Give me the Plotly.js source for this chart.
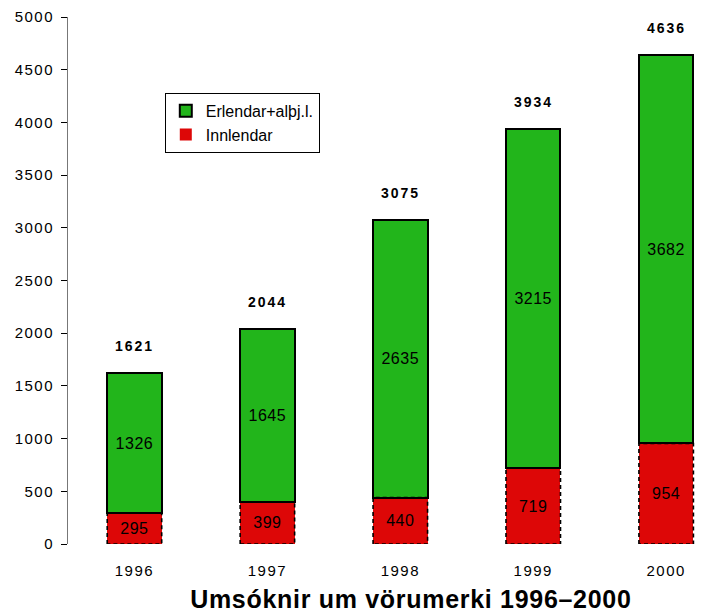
<!DOCTYPE html>
<html>
<head>
<meta charset="utf-8">
<script src="https://cdn.plot.ly/plotly-3.0.1.min.js"></script>
<style>
html,body{margin:0;padding:0;background:#fff;}
#chart{width:722px;height:614px;}
#chart g.xtick text, #chart g.ytick text { letter-spacing: 1.5px; }
#chart text.bartext { letter-spacing: 0.5px; }
#chart g.annotation text { letter-spacing: 2px; }
#chart g.annotation[data-index="5"] text { letter-spacing: 0.7px; }
</style>
</head>
<body>
<div id="chart"></div>
<script>
const years = ["1996", "1997", "1998", "1999", "2000"];
const innlendar = [295, 399, 440, 719, 954];
const erlendar = [1326, 1645, 2635, 3215, 3682];
const totals = [1621, 2044, 3075, 3934, 4636];
const yTicks = [0, 500, 1000, 1500, 2000, 2500, 3000, 3500, 4000, 4500, 5000];

const barWidth = 0.41;
const xpos = years.map((_, i) => i);
const font = "Liberation Sans, Arial, Helvetica, sans-serif";

// dashed outline of red bars, derived from data
const ox = [], oy = [];
innlendar.forEach((v, i) => {
  const a = i - barWidth / 2, b = i + barWidth / 2;
  ox.push(a, a, b, b, a, null);
  oy.push(0, v, v, 0, 0, null);
});

const traces = [
  {
    type: "bar", x: xpos, y: innlendar, name: "Innlendar", width: barWidth,
    marker: {color: "#dd0707", line: {width: 0}},
    text: innlendar.map(String), textposition: "inside", insidetextanchor: "middle",
    textfont: {family: font, size: 16, color: "#000"}, constraintext: "none",
    hoverinfo: "skip"
  },
  {
    type: "bar", x: xpos, y: erlendar, name: "Erlendar+alþj.l.", width: barWidth,
    marker: {color: "#22b51b", line: {width: 2, color: "#000"}},
    text: erlendar.map(String), textposition: "inside", insidetextanchor: "middle",
    textfont: {family: font, size: 16, color: "#000"}, constraintext: "none",
    hoverinfo: "skip"
  },
  {
    type: "scatter", mode: "lines", x: ox, y: oy, showlegend: false,
    line: {color: "#000", width: 1.6, dash: "4px,3px"}, hoverinfo: "skip", cliponaxis: false
  }
];

const annotations = totals.map((t, i) => ({
  x: i, y: t, xref: "x", yref: "y", text: "<b>" + t + "</b>", showarrow: false,
  yanchor: "bottom", yshift: 17, font: {family: font, size: 14, color: "#000"}
}));
annotations.push({
  x: 0.525, y: -0.104, xref: "paper", yref: "paper", xanchor: "center", yanchor: "middle",
  text: "<b>Umsóknir um vörumerki 1996–2000</b>", showarrow: false,
  font: {family: font, size: 25, color: "#000"}
});

const xr = [-0.5, 4.42];
const layout = {
  width: 722, height: 614,
  margin: {l: 68, r: 0, t: 17, b: 70},
  paper_bgcolor: "#fff", plot_bgcolor: "#fff",
  barmode: "stack",
  showlegend: true,
  legend: {
    x: 0.148, y: 0.856, xanchor: "left", yanchor: "top",
    bordercolor: "#000", borderwidth: 1, bgcolor: "#fff",
    traceorder: "reversed",
    font: {family: font, size: 16, color: "#000"},
    itemwidth: 30, tracegroupgap: 0
  },
  xaxis: {
    range: xr, tickvals: xpos, ticktext: years, ticks: "",
    showgrid: false, zeroline: false, showline: false,
    tickfont: {family: font, size: 15, color: "#000"}, ticklabelstandoff: 16
  },
  xaxis2: {
    overlaying: "x", range: xr, tickvals: [0.5, 1.5, 2.5, 3.5], ticks: "outside",
    ticklen: 6, tickcolor: "#000", tickwidth: 1, showticklabels: false,
    showgrid: false, zeroline: false, showline: true, linecolor: "#777", linewidth: 1,
    anchor: "y", side: "bottom"
  },
  xaxis3: {
    overlaying: "x", range: xr, tickvals: [0.5, 1.5, 2.5, 3.5], ticks: "inside",
    ticklen: 6, tickcolor: "#000", tickwidth: 1, showticklabels: false,
    showgrid: false, zeroline: false, showline: false,
    anchor: "y", side: "bottom"
  },
  yaxis: {
    range: [0, 5000], tickvals: yTicks, ticktext: yTicks.map(String),
    ticks: "outside", ticklen: 6, tickcolor: "#000", tickwidth: 1,
    showgrid: false, zeroline: false, showline: true, linecolor: "#777", linewidth: 1,
    tickfont: {family: font, size: 15, color: "#000"}, ticklabelstandoff: 4
  },
  yaxis2: {
    overlaying: "y", range: [0, 5000], tickvals: yTicks, ticks: "inside", ticklen: 6,
    tickcolor: "#000", tickwidth: 1, showticklabels: false, showgrid: false,
    zeroline: false, showline: false, anchor: "x", side: "left"
  },
  annotations: annotations
};

Plotly.newPlot("chart", traces, layout, {displayModeBar: false, staticPlot: true});
</script>
</body>
</html>
